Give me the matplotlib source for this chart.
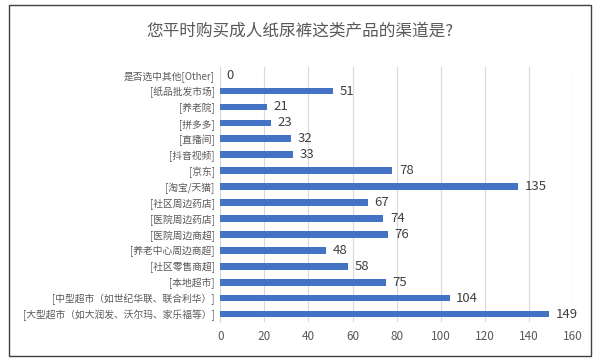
import matplotlib.pyplot as plt
from matplotlib.patches import Rectangle

plt.rcParams['font.family'] = ['Noto Sans CJK SC', 'DejaVu Sans']

# Kategorien von oben nach unten
categories = [
    "是否选中其他[Other]",
    "[纸品批发市场]",
    "[养老院]",
    "[拼多多]",
    "[直播间]",
    "[抖音视频]",
    "[京东]",
    "[淘宝/天猫]",
    "[社区周边药店]",
    "[医院周边药店]",
    "[医院周边商超]",
    "[养老中心周边商超]",
    "[社区零售商超]",
    "[本地超市]",
    "[中型超市（如世纪华联、联合利华）]",
    "[大型超市（如大润发、沃尔玛、家乐福等）]",
]
counts = [0, 51, 21, 23, 32, 33, 78, 135, 67, 74, 76, 48, 58, 75, 104, 149]
x_ticks = [0, 20, 40, 60, 80, 100, 120, 140, 160]

fig = plt.figure(figsize=(6, 3.63), dpi=100)
ax = fig.add_axes([0.367, 0.113, 0.588, 0.702])

pos = list(range(len(categories)))
ax.barh(pos, counts, height=0.42, color="#4472C4", zorder=3)
for p, v in zip(pos, counts):
    ax.text(v + 3, p, str(v), va="center", ha="left", fontsize=9.5, color="#404040")

ax.set_yticks(pos)
ax.set_yticklabels(categories, fontsize=7, color="#595959")
ax.set_ylim(len(categories) - 0.5, -0.5)
ax.set_xlim(0, 160)
ax.set_xticks(x_ticks)
ax.set_xticklabels([str(t) for t in x_ticks], fontsize=8.5, color="#595959")
ax.tick_params(axis="both", length=0, pad=6)
ax.tick_params(axis="y", pad=4)
ax.grid(axis="x", color="#D9D9D9", linewidth=0.8, zorder=0)
for s in ["top", "right", "bottom"]:
    ax.spines[s].set_visible(False)
ax.spines["left"].set_color("#D9D9D9")

fig.text(0.5, 0.915, "您平时购买成人纸尿裤这类产品的渠道是?", ha="center", va="center",
         fontsize=12, color="#595959")

# Rahmen um das Diagramm
fig.patches.append(Rectangle((0.015, 0.02), 0.97, 0.965, transform=fig.transFigure,
                             fill=False, edgecolor="#404040", linewidth=1.0))

fig.savefig("out.png", dpi=100)
